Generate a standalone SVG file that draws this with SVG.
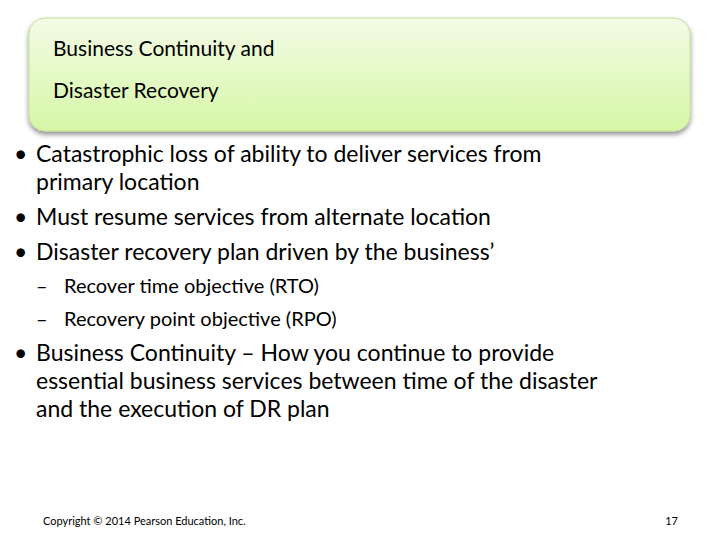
<svg xmlns="http://www.w3.org/2000/svg" width="720" height="540" viewBox="0 0 720 540">
<defs>
<linearGradient id="g" x1="0" y1="0" x2="0" y2="1">
<stop offset="0" stop-color="#f3fbe6"/><stop offset="1" stop-color="#d6f7a6"/>
</linearGradient>
<filter id="s" x="-5%" y="-10%" width="110%" height="130%"><feDropShadow dx="0" dy="3" stdDeviation="2.5" flood-color="#000" flood-opacity="0.45"/></filter>
</defs>
<style>
text{font-family:Lato,"Open Sans","Liberation Sans",sans-serif;fill:#000}
.t{font-size:21px}.b{font-size:23px}.s{font-size:20px}.f{font-size:11px}
</style>
<rect width="720" height="540" fill="#fff"/>
<g id="title">
<rect x="29" y="18" width="661" height="113" rx="16" fill="url(#g)" stroke="#c4df9a" stroke-width="1" filter="url(#s)"/>
<text class="t" x="53" y="56">Business Continuity and</text>
<text class="t" x="53" y="98">Disaster Recovery</text>
</g>
<g id="body">
<text class="b" x="14" y="162">•</text><text class="b" x="36" y="162">Catastrophic loss of ability to deliver services from</text>
<text class="b" x="36" y="190">primary location</text>
<text class="b" x="14" y="225">•</text><text class="b" x="36" y="225">Must resume services from alternate location</text>
<text class="b" x="14" y="260">•</text><text class="b" x="36" y="260">Disaster recovery plan driven by the business’</text>
<text class="s" x="36" y="293">–</text><text class="s" x="64" y="293">Recover time objective (RTO)</text>
<text class="s" x="36" y="326">–</text><text class="s" x="64" y="326">Recovery point objective (RPO)</text>
<text class="b" x="14" y="361">•</text><text class="b" x="36" y="361">Business Continuity – How you continue to provide</text>
<text class="b" x="36" y="389">essential business services between time of the disaster</text>
<text class="b" x="36" y="417">and the execution of DR plan</text>
</g>
<g id="footer">
<text class="f" x="43" y="525">Copyright © 2014 Pearson Education, Inc.</text>
<text class="f" x="678" y="525" text-anchor="end">17</text>
</g>
</svg>
